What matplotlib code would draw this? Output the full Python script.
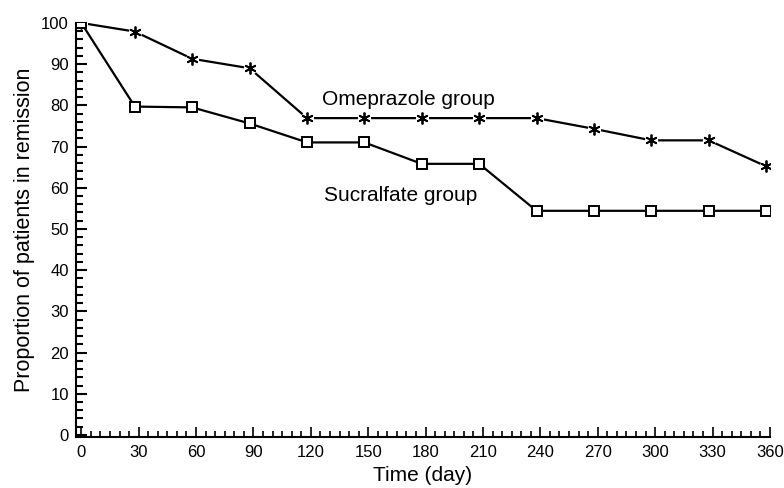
import matplotlib
matplotlib.use("Agg")
import matplotlib.pyplot as plt
from matplotlib.ticker import MultipleLocator

plt.rcParams['font.family'] = ['Liberation Sans', 'DejaVu Sans']

# Days of follow-up (points sit slightly before each month tick)
days = [0, 28, 58, 88, 118, 148, 178, 208, 238, 268, 298, 328, 358]

# Proportion of patients in remission (%)
omeprazole = [100, 97.9, 91.3, 89.0, 76.9, 76.9, 76.9, 76.9, 76.9, 74.3, 71.5, 71.5, 65.2]
sucralfate = [100, 79.7, 79.5, 75.6, 71.0, 71.0, 65.8, 65.8, 54.4, 54.4, 54.4, 54.4, 54.4]

x_ticks = list(range(0, 361, 30))
y_ticks = list(range(0, 101, 10))

fig = plt.figure(figsize=(7.84, 4.88), dpi=100)
ax = fig.add_axes([0.0966, 0.1045, 0.8854, 0.8485])

# Omeprazole line with white halo under the stars (line stops short of marker)
ax.plot(days, omeprazole, color='black', lw=1.6, zorder=2)
ax.plot(days, omeprazole, ls='none', marker='o', ms=9.5, mfc='white', mec='none', zorder=3)
ax.plot(days, omeprazole, ls='none', marker=(6, 2, 0), ms=8.5, mec='black', mew=1.3, zorder=4)

# Sucralfate line with open squares
ax.plot(days, sucralfate, color='black', lw=1.6, marker='s', ms=7.5,
        mfc='white', mec='black', mew=1.4, zorder=5)

ax.text(126, 80.2, "Omeprazole group", fontsize=15, va='baseline', ha='left')
ax.text(127, 56.7, "Sucralfate group", fontsize=15, va='baseline', ha='left')

ax.set_xlim(-2.9, 360)
ax.set_ylim(-0.5, 100)
ax.set_xticks(x_ticks)
ax.set_yticks(y_ticks)
ax.xaxis.set_minor_locator(MultipleLocator(5))
ax.yaxis.set_minor_locator(MultipleLocator(2))

ax.tick_params(axis='x', which='major', direction='in', length=7.5, width=1.2,
               labelsize=12, pad=6)
ax.tick_params(axis='x', which='minor', direction='in', length=4.5, width=1.2)
ax.tick_params(axis='y', which='major', direction='in', length=8, width=1.5,
               labelsize=12, pad=5)
ax.tick_params(axis='y', which='minor', direction='in', length=5, width=1.5)

for side in ['top', 'right']:
    ax.spines[side].set_visible(False)
for side in ['left', 'bottom']:
    ax.spines[side].set_linewidth(1.5)

ax.set_xlabel("Time (day)", fontsize=15, labelpad=4)
ax.set_ylabel("Proportion of patients in remission", fontsize=15.5, labelpad=4)

fig.savefig("out.png", dpi=100)
